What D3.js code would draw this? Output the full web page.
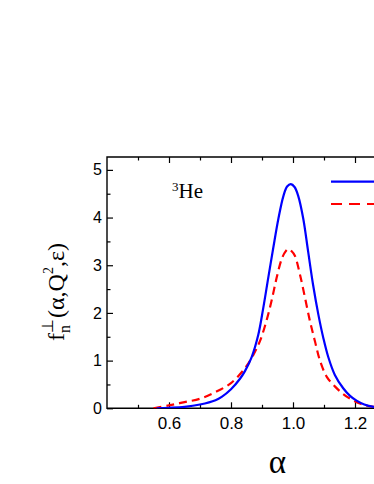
<!DOCTYPE html>
<html>
<head>
<meta charset="utf-8">
<script src="https://cdn.jsdelivr.net/npm/d3@7"></script>
<style>
  html, body { margin: 0; padding: 0; background: #fff; }
  svg { display: block; }
</style>
</head>
<body>
<div id="chart"></div>
<script>
(function () {
	'use strict';

	// values
	var alphaBlue = [0.56, 0.60, 0.65, 0.70, 0.75, 0.77, 0.80, 0.829, 0.845, 0.867, 0.888, 0.904, 0.920, 0.936, 0.953, 0.969, 0.981, 0.993, 1.005, 1.017, 1.033, 1.049, 1.065, 1.082, 1.098, 1.114, 1.135, 1.162, 1.184, 1.205, 1.23, 1.26, 1.30];
	var fBlue = [0.0, 0.01, 0.03, 0.08, 0.17, 0.24, 0.40, 0.62, 0.78, 1.08, 1.54, 2.10, 2.73, 3.35, 3.98, 4.45, 4.65, 4.70, 4.64, 4.45, 3.98, 3.28, 2.58, 1.96, 1.47, 1.07, 0.70, 0.42, 0.26, 0.16, 0.08, 0.03, 0.01];
	var alphaRed = [0.55, 0.60, 0.65, 0.70, 0.75, 0.80, 0.845, 0.872, 0.894, 0.915, 0.931, 0.947, 0.963, 0.975, 0.985, 0.995, 1.006, 1.023, 1.039, 1.055, 1.071, 1.087, 1.109, 1.135, 1.162, 1.19, 1.22, 1.25, 1.30];
	var fRed = [0.0, 0.06, 0.13, 0.20, 0.34, 0.53, 0.84, 1.12, 1.42, 1.85, 2.26, 2.73, 3.12, 3.28, 3.34, 3.30, 3.20, 2.79, 2.31, 1.82, 1.40, 1.00, 0.66, 0.46, 0.30, 0.18, 0.09, 0.04, 0.01];
	var xTickLabels = [0.6, 0.8, 1.0, 1.2];
	var xMinorTicks = [0.5, 0.7, 0.9, 1.1, 1.3];
	var yTickLabels = [0, 1, 2, 3, 4, 5];
	var yMinorTicks = [0.5, 1.5, 2.5, 3.5, 4.5];

	var width = 374, height = 484;
	var left = 107, right = 417, top = 157, bottom = 408.3;

	var svg = d3.select('#chart').append('svg')
		.attr('width', width)
		.attr('height', height);

	var x = d3.scaleLinear().domain([0.4, 1.4]).range([left, right]);
	var y = d3.scaleLinear().domain([0, 5.27]).range([bottom, top]);

	var sans = '"Liberation Sans", Arial, sans-serif';
	var serif = '"Liberation Serif", "Times New Roman", serif';

	// axes, ticks pointing inside
	function axisStyle(g, size) {
		g.select('.domain').remove();
		g.selectAll('line').attr('stroke', '#000').attr('stroke-width', 1.2);
		if (size) {
			g.selectAll('text')
				.style('font-family', sans)
				.style('font-size', size + 'px')
				.attr('fill', '#000');
		} else {
			g.selectAll('text').remove();
		}
	}

	var fmtX = d3.format('.1f');

	svg.append('g').attr('transform', 'translate(0,' + bottom + ')')
		.call(d3.axisBottom(x).tickValues(xTickLabels).tickFormat(fmtX).tickSizeInner(-6).tickPadding(9))
		.call(axisStyle, 17);
	svg.append('g').attr('transform', 'translate(0,' + bottom + ')')
		.call(d3.axisBottom(x).tickValues(xMinorTicks).tickSizeInner(-3.5))
		.call(axisStyle, 0);
	svg.append('g').attr('transform', 'translate(0,' + top + ')')
		.call(d3.axisTop(x).tickValues(xTickLabels).tickSizeInner(-6))
		.call(axisStyle, 0);
	svg.append('g').attr('transform', 'translate(0,' + top + ')')
		.call(d3.axisTop(x).tickValues(xMinorTicks).tickSizeInner(-3.5))
		.call(axisStyle, 0);

	svg.append('g').attr('transform', 'translate(' + left + ',0)')
		.call(d3.axisLeft(y).tickValues(yTickLabels).tickFormat(d3.format('d')).tickSizeInner(-6).tickPadding(5))
		.call(axisStyle, 16);
	svg.append('g').attr('transform', 'translate(' + left + ',0)')
		.call(d3.axisLeft(y).tickValues(yMinorTicks).tickSizeInner(-3.5))
		.call(axisStyle, 0);

	// frame
	svg.append('path')
		.attr('d', 'M' + right + ',' + top + 'H' + left + 'V' + bottom + 'H' + right)
		.attr('fill', 'none')
		.attr('stroke', '#000')
		.attr('stroke-width', 1.4);

	var line = d3.line()
		.x(function (d) { return x(d[0]); })
		.y(function (d) { return y(d[1]); })
		.curve(d3.curveCatmullRom.alpha(0.5));

	svg.append('clipPath').attr('id', 'plotclip')
		.append('rect')
		.attr('x', left).attr('y', top - 2)
		.attr('width', right - left).attr('height', bottom - top + 2);

	svg.append('path')
		.datum(d3.zip(alphaRed, fRed))
		.attr('d', line)
		.attr('clip-path', 'url(#plotclip)')
		.attr('fill', 'none')
		.attr('stroke', '#ff0000')
		.attr('stroke-width', 2.2)
		.attr('stroke-dasharray', '8,5');

	svg.append('path')
		.datum(d3.zip(alphaBlue, fBlue))
		.attr('d', line)
		.attr('clip-path', 'url(#plotclip)')
		.attr('fill', 'none')
		.attr('stroke', '#0000ff')
		.attr('stroke-width', 2.2);

	// legend (labels fall outside the picture)
	svg.append('line')
		.attr('x1', 331).attr('x2', 395)
		.attr('y1', 181.7).attr('y2', 181.7)
		.attr('stroke', '#0000ff').attr('stroke-width', 2.2);
	svg.append('line')
		.attr('x1', 331).attr('x2', 395)
		.attr('y1', 204).attr('y2', 204)
		.attr('stroke', '#ff0000').attr('stroke-width', 2.2)
		.attr('stroke-dasharray', '11,7');

	// 3He label
	var he = svg.append('text')
		.attr('x', 172).attr('y', 198)
		.style('font-family', serif)
		.style('font-size', '21px');
	he.append('tspan').attr('dy', -7).style('font-size', '13px').text('3');
	he.append('tspan').attr('dy', 7).text('He');

	// x title
	svg.append('text')
		.attr('x', 277.5).attr('y', 473)
		.attr('text-anchor', 'middle')
		.style('font-family', serif)
		.style('font-size', '33px')
		.text('\u03b1');

	// y title, built piece by piece
	var yt = svg.append('g').attr('transform', 'translate(64,341) rotate(-90)')
		.style('font-family', serif);
	var pos = 0;
	function piece(txt, size, dy) {
		var t = yt.append('text').attr('x', pos).attr('y', dy)
			.style('font-size', size + 'px').text(txt);
		return t.node().getComputedTextLength();
	}
	pos += piece('f', 24, 0);
	var wn = piece('n', 16, 6);
	var wp = piece('\u22a5', 16, -11);
	pos += Math.max(wn, wp) + 1;
	pos += piece('(\u03b1,Q', 24, 0);
	pos += piece('2', 14, -11);
	piece(',\u03b5)', 24, 0);
}());
</script>
</body>
</html>
